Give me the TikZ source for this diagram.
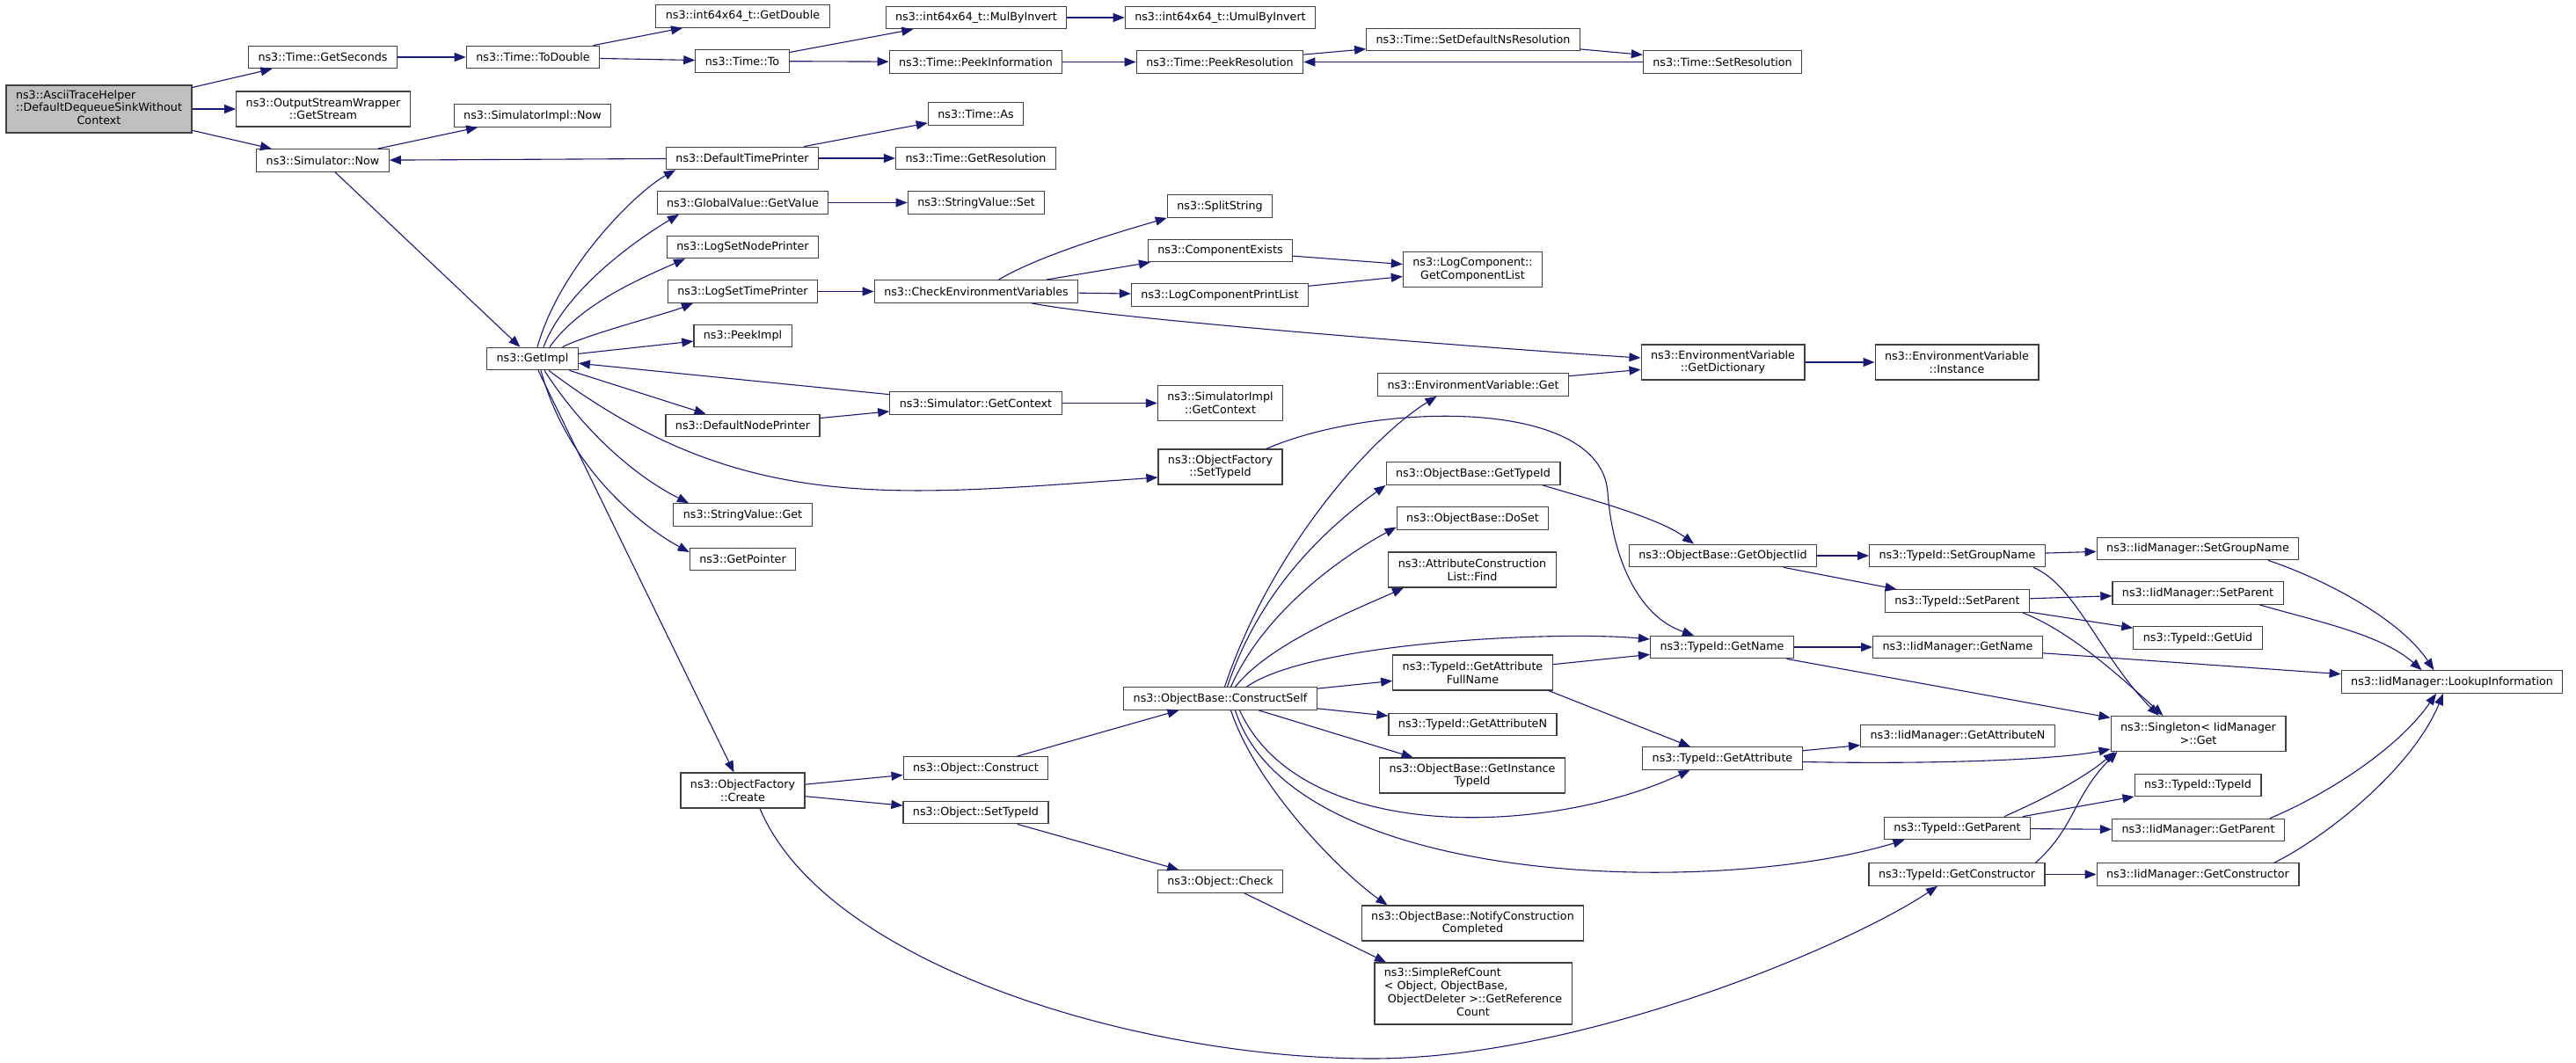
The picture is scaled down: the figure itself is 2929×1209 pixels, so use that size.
\documentclass[tikz,border=0pt]{standalone}
\usepackage{fontspec}
\setmainfont{DejaVu Sans}
\usepackage{tikz}
\usetikzlibrary{arrows.meta}
\definecolor{edgeblue}{RGB}{25,25,112}
\definecolor{boxline}{RGB}{64,64,64}
\definecolor{mainfill}{RGB}{191,191,191}

\begin{document}
\begin{tikzpicture}[x=1pt, y=-1pt,
        fn/.style={draw=boxline, line width=1.2pt, fill=white, align=center,
            inner xsep=11pt, inner ysep=3pt, minimum height=25.5pt,
            font=\fontsize{12.7pt}{14.7pt}\selectfont},
        fn2/.style={fn, minimum height=40pt},
        call/.style={draw=edgeblue, line width=1.1pt, -{Triangle[length=13pt,width=10pt]}}]
        \useasboundingbox (0,0) rectangle (2929,1209);

        \node[fn, fill=mainfill, minimum height=54pt] (main) at (112.5,124) {\begin{tabular}{@{}l@{}}ns3::AsciiTraceHelper\\::DefaultDequeueSinkWithout\\\multicolumn{1}{@{}c@{}}{Context}\end{tabular}};
        \node[fn] (gsec) at (367,65) {ns3::Time::GetSeconds};
        \node[fn2] (ostr) at (367.5,124) {ns3::OutputStreamWrapper\\::GetStream};
        \node[fn] (simnow) at (367,182.5) {ns3::Simulator::Now};
        \node[fn] (todbl) at (606,65) {ns3::Time::ToDouble};
        \node[fn] (simimplnow) at (605.5,131.5) {ns3::SimulatorImpl::Now};
        \node[fn] (getimpl) at (605.5,408) {ns3::GetImpl};
        \node[fn] (getdbl) at (844.5,18.5) {ns3::int64x64\_t::GetDouble};
        \node[fn] (timeto) at (844,69.5) {ns3::Time::To};
        \node[fn] (deftimepr) at (844,180) {ns3::DefaultTimePrinter};
        \node[fn] (gvgetval) at (844.5,230.5) {ns3::GlobalValue::GetValue};
        \node[fn] (lognodepr) at (844.5,281) {ns3::LogSetNodePrinter};
        \node[fn] (logtimepr) at (844.5,331.5) {ns3::LogSetTimePrinter};
        \node[fn] (peekimpl) at (844.5,382) {ns3::PeekImpl};
        \node[fn] (defnodepr) at (844.5,484) {ns3::DefaultNodePrinter};
        \node[fn] (svget) at (844.5,585.5) {ns3::StringValue::Get};
        \node[fn] (getptr) at (844.5,636) {ns3::GetPointer};
        \node[fn2] (ofcreate) at (844.5,899) {ns3::ObjectFactory\\::Create};
        \node[fn] (mulinv) at (1110,20) {ns3::int64x64\_t::MulByInvert};
        \node[fn] (peekinfo) at (1109.5,70.5) {ns3::Time::PeekInformation};
        \node[fn] (timeas) at (1109.5,129.5) {ns3::Time::As};
        \node[fn] (getres) at (1109.5,180) {ns3::Time::GetResolution};
        \node[fn] (svset) at (1110,230.5) {ns3::StringValue::Set};
        \node[fn] (checkenv) at (1110,331.5) {ns3::CheckEnvironmentVariables};
        \node[fn] (simgetctx) at (1109.5,458.5) {ns3::Simulator::GetContext};
        \node[fn] (objconstruct) at (1109.5,873.5) {ns3::Object::Construct};
        \node[fn] (objsettype) at (1109.5,924) {ns3::Object::SetTypeId};
        \node[fn] (umulinv) at (1387.5,20) {ns3::int64x64\_t::UmulByInvert};
        \node[fn] (peekres) at (1387,70.5) {ns3::Time::PeekResolution};
        \node[fn] (splitstr) at (1387,234.5) {ns3::SplitString};
        \node[fn] (compexists) at (1387.5,285) {ns3::ComponentExists};
        \node[fn] (logcompprint) at (1387,335.5) {ns3::LogComponentPrintList};
        \node[fn2] (simimplctx) at (1387.5,458.5) {ns3::SimulatorImpl\\::GetContext};
        \node[fn2] (ofsettype) at (1387.5,531) {ns3::ObjectFactory\\::SetTypeId};
        \node[fn] (constructself) at (1387.5,794.5) {ns3::ObjectBase::ConstructSelf};
        \node[fn] (objcheck) at (1387.5,1002.5) {ns3::Object::Check};
        \node[fn] (setdefres) at (1675,45) {ns3::Time::SetDefaultNsResolution};
        \node[fn2] (getcomplist) at (1674.5,306.5) {ns3::LogComponent::\\GetComponentList};
        \node[fn] (envget) at (1675,437.5) {ns3::EnvironmentVariable::Get};
        \node[fn] (obgettype) at (1675,538.5) {ns3::ObjectBase::GetTypeId};
        \node[fn] (obdoset) at (1674.5,589.5) {ns3::ObjectBase::DoSet};
        \node[fn2] (acfind) at (1674,648) {ns3::AttributeConstruction\\List::Find};
        \node[fn2] (tidgetattrfull) at (1674.5,765) {ns3::TypeId::GetAttribute\\FullName};
        \node[fn] (tidgetattrn) at (1674.5,824) {ns3::TypeId::GetAttributeN};
        \node[fn2] (obinsttype) at (1674,882) {ns3::ObjectBase::GetInstance\\TypeId};
        \node[fn2] (notify) at (1674.5,1050) {ns3::ObjectBase::NotifyConstruction\\Completed};
        \node[fn, minimum height=70pt] (refcount) at (1675,1130) {\begin{tabular}{@{}l@{}}ns3::SimpleRefCount\\< Object, ObjectBase,\\\ ObjectDeleter >::GetReference\\\multicolumn{1}{@{}c@{}}{Count}\end{tabular}};
        \node[fn] (setres) at (1958.5,70.5) {ns3::Time::SetResolution};
        \node[fn2] (envgetdict) at (1959,412) {ns3::EnvironmentVariable\\::GetDictionary};
        \node[fn] (obgetiid) at (1959,632) {ns3::ObjectBase::GetObjectIid};
        \node[fn] (tidgetname) at (1958,736) {ns3::TypeId::GetName};
        \node[fn] (tidgetattr) at (1958.5,862.5) {ns3::TypeId::GetAttribute};
        \node[fn2] (envinst) at (2225,412) {ns3::EnvironmentVariable\\::Instance};
        \node[fn] (tidsetgroup) at (2225.5,632) {ns3::TypeId::SetGroupName};
        \node[fn] (tidsetparent) at (2225.5,683.5) {ns3::TypeId::SetParent};
        \node[fn] (iidgetname) at (2226,736) {ns3::IidManager::GetName};
        \node[fn] (iidgetattrn) at (2226,837) {ns3::IidManager::GetAttributeN};
        \node[fn] (tidgetparent) at (2225.5,942) {ns3::TypeId::GetParent};
        \node[fn] (tidgetctor) at (2225,994.5) {ns3::TypeId::GetConstructor};
        \node[fn] (iidsetgroup) at (2499,624) {ns3::IidManager::SetGroupName};
        \node[fn] (iidsetparent) at (2499,674.5) {ns3::IidManager::SetParent};
        \node[fn] (tidgetuid) at (2499,725.5) {ns3::TypeId::GetUid};
        \node[fn2] (singleton) at (2499.5,834.5) {ns3::Singleton< IidManager\\>::Get};
        \node[fn] (tidtypeid) at (2499,893) {ns3::TypeId::TypeId};
        \node[fn] (iidgetparent) at (2499.5,944) {ns3::IidManager::GetParent};
        \node[fn] (iidgetctor) at (2499,994.5) {ns3::IidManager::GetConstructor};
        \node[fn] (lookup) at (2788,775.5) {ns3::IidManager::LookupInformation};

        \draw[call] (main) -- (gsec);
        \draw[call] (main) -- (ostr);
        \draw[call] (main) -- (simnow);
        \draw[call] (gsec) -- (todbl);
        \draw[call] (todbl) -- (getdbl);
        \draw[call] (todbl) -- (timeto);
        \draw[call] (timeto) -- (mulinv);
        \draw[call] (timeto) -- (peekinfo);
        \draw[call] (mulinv) -- (umulinv);
        \draw[call] (peekinfo) -- (peekres);
        \draw[call] (peekres) -- (setdefres);
        \draw[call] (setdefres) -- (setres);
        \draw[call] (setres) -- (peekres);
        \draw[call] (simnow) -- (simimplnow);
        \draw[call] (simnow) -- (getimpl);
        \draw[call] (deftimepr) -- (simnow);
        \draw[call] (deftimepr) -- (timeas);
        \draw[call] (deftimepr) -- (getres);
        \draw[call] ([xshift=5.5pt]getimpl.north) .. controls +(25,-90) and +(-45,25) .. ([xshift=-76pt]deftimepr.south);
        \draw[call] ([xshift=12.5pt]getimpl.north) .. controls +(25,-65) and +(-50,30) .. ([xshift=-72.5pt]gvgetval.south);
        \draw[call] ([xshift=19.5pt]getimpl.north) .. controls +(35,-50) and +(-45,20) .. ([xshift=-65.5pt]lognodepr.south);
        \draw[call] ([xshift=34pt]getimpl.north) .. controls +(30,-15) and +(-30,12) .. ([xshift=-56.5pt]logtimepr.south);
        \draw[call] (gvgetval) -- (svset);
        \draw[call] (logtimepr) -- (checkenv);
        \draw[call] ([xshift=25.5pt]checkenv.north) .. controls +(50,-30) and +(-40,12) .. (splitstr.south west);
        \draw[call] (checkenv) -- (compexists);
        \draw[call] (checkenv) -- (logcompprint);
        \draw[call] ([xshift=63pt]checkenv.south) .. controls +(100,20) and +(-100,-6) .. ([yshift=5pt]envgetdict.west);
        \draw[call] (compexists) -- (getcomplist);
        \draw[call] (logcompprint) -- (getcomplist);
        \draw[call] (getimpl) -- (peekimpl);
        \draw[call] (simgetctx) -- (getimpl);
        \draw[call] (getimpl) -- (defnodepr);
        \draw[call] (defnodepr) -- (simgetctx);
        \draw[call] (simgetctx) -- (simimplctx);
        \draw[call] ([xshift=18.5pt]getimpl.south) .. controls +(220,166) and +(-300,21) .. ([yshift=-12pt]ofsettype.west);
        \draw[call] ([xshift=13.5pt]getimpl.south) .. controls +(45,70) and +(-60,-30) .. ([xshift=-61.5pt]svget.north);
        \draw[call] ([xshift=9.5pt]getimpl.south) .. controls +(30,110) and +(-55,-30) .. ([yshift=8pt]getptr.west);
        \draw[call] (getimpl) -- (ofcreate);
        \draw[call] ([xshift=52.5pt]ofsettype.north) .. controls (1560,458) and (1820,450) .. (1828,560) .. controls (1833,630) and (1860,700) .. ([xshift=-32pt]tidgetname.north);
        \draw[call] (envget) -- (envgetdict);
        \draw[call] (envgetdict) -- (envinst);
        \draw[call] ([xshift=5pt]constructself.north) .. controls +(50,-150) and +(-80,50) .. ([xshift=-41.5pt]envget.south);
        \draw[call] ([xshift=8pt]constructself.north) .. controls +(40,-120) and +(-55,40) .. (obgettype.south west);
        \draw[call] ([xshift=12pt]constructself.north) .. controls +(40,-90) and +(-55,30) .. ([yshift=-10pt]obdoset.west);
        \draw[call] ([xshift=17pt]constructself.north) .. controls +(40,-50) and +(-55,25) .. ([xshift=-78pt]acfind.south);
        \draw[call] ([xshift=30pt]constructself.north) .. controls +(70,-50) and +(-110,-10) .. ([yshift=9pt]tidgetname.west);
        \draw[call] (constructself) -- (tidgetattrfull);
        \draw[call] (constructself) -- (tidgetattrn);
        \draw[call] (constructself) -- (obinsttype);
        \draw[call] ([xshift=22pt]constructself.south) .. controls +(70,153) and +(-161.5,75) .. ([xshift=-37pt]tidgetattr.south);
        \draw[call] ([xshift=17pt]constructself.south) .. controls +(65,203) and +(-215,65) .. ([xshift=-60pt]tidgetparent.south);
        \draw[call] ([xshift=12pt]constructself.south) .. controls +(30,90) and +(-50,-35) .. ([xshift=-97pt]notify.north);
        \draw[call] ([xshift=79pt]obgettype.south) .. controls +(50,15) and +(-40,-30) .. ([xshift=-33pt]obgetiid.north);
        \draw[call] (obgetiid) -- (tidsetgroup);
        \draw[call] (obgetiid) -- (tidsetparent);
        \draw[call] (tidgetattrfull) -- (tidgetname);
        \draw[call] ([xshift=86.5pt]tidgetattrfull.south) -- ([xshift=-36.5pt]tidgetattr.north);
        \draw[call] (tidgetname) -- (iidgetname);
        \draw[call] (tidgetname) -- (singleton);
        \draw[call] (tidsetgroup) -- (iidsetgroup);
        \draw[call] ([xshift=86.5pt]tidsetgroup.south) .. controls +(48,20) and +(-65,-65) .. ([xshift=-45pt]singleton.north);
        \draw[call] (tidsetparent) -- (iidsetparent);
        \draw[call] (tidsetparent) -- (tidgetuid);
        \draw[call] ([xshift=74.5pt]tidsetparent.south) .. controls +(50,20) and +(-60,-55) .. ([xshift=-40pt]singleton.north);
        \draw[call] (iidgetname) -- (lookup);
        \draw[call] ([xshift=80pt]iidsetgroup.south) .. controls +(60,20) and +(-40,-60) .. ([xshift=-20.5pt]lookup.north);
        \draw[call] ([xshift=70pt]iidsetparent.south) .. controls +(70,20) and +(-45,-40) .. ([xshift=-34.5pt]lookup.north);
        \draw[call] (tidgetattr) -- (iidgetattrn);
        \draw[call] ([yshift=-4pt]tidgetattr.east) .. controls +(150,3) and +(-60,12) .. ([yshift=-17.5pt]singleton.west);
        \draw[call] ([xshift=53.5pt]tidgetparent.north) .. controls +(45,-20) and +(-35,30) .. ([xshift=-95pt]singleton.south);
        \draw[call] (tidgetparent) -- (tidtypeid);
        \draw[call] (tidgetparent) -- (iidgetparent);
        \draw[call] ([xshift=89.5pt]tidgetctor.north) .. controls +(45,-40) and +(-50,50) .. ([xshift=-92pt]singleton.south);
        \draw[call] (tidgetctor) -- (iidgetctor);
        \draw[call] ([xshift=81.5pt]iidgetparent.north) .. controls +(60,-25) and +(-45,65) .. ([xshift=-18pt]lookup.south);
        \draw[call] ([xshift=87pt]iidgetctor.north) .. controls +(60,-30) and +(-35,85) .. ([xshift=-10pt]lookup.south);
        \draw[call] (ofcreate) -- (objconstruct);
        \draw[call] (ofcreate) -- (objsettype);
        \draw[call] ([xshift=19.5pt]ofcreate.south) .. controls (940,1100) and (1300,1204) .. (1560,1204) .. controls (1800,1204) and (2103,1075) .. ([xshift=-22pt]tidgetctor.south);
        \draw[call] (objconstruct) -- (constructself);
        \draw[call] (objsettype) -- (objcheck);
        \draw[call] (objcheck) -- ([xshift=-99pt]refcount.north);
    \end{tikzpicture}
\end{document}
